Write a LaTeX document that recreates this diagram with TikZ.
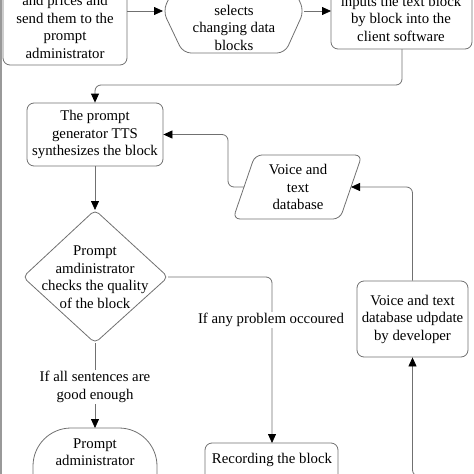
\documentclass[tikz,border=0pt]{standalone}
\usepackage{fontspec}
\setmainfont{Liberation Serif}
\usetikzlibrary{arrows.meta}
\definecolor{ln}{HTML}{707070}
\begin{document}
\begin{tikzpicture}[x=1pt,y=-1pt,
  shp/.style={draw=ln, line width=0.8pt, rounded corners=7pt},
  txt/.style={align=center, font=\fontsize{14.8}{17.5}\selectfont, inner sep=0pt},
  boxn/.style={shp, txt, rounded corners=7pt},
  conn/.style={draw=ln, line width=0.8pt, rounded corners=6pt, -{Triangle[length=9pt,width=8pt,color=black,fill=black]}},
  plain/.style={draw=ln, line width=0.8pt, rounded corners=6pt},
  lbl/.style={txt, fill=white, inner sep=1.5pt}]
\useasboundingbox (0,0) rectangle (474,474);
\clip (0,0) rectangle (474,474);
\fill[black!40] (0,0) rectangle (2,474);

% box 1 (cut at top)
\draw[shp] (3,-40) rectangle (127,65);
\node[txt] (t1) at (65,27) {and prices and\\send them to the\\prompt\\administrator};
\coordinate (b1e) at (127,11);

% hexagon
\draw[shp, rounded corners=8pt] (163,11) -- (183,53) -- (285,53) -- (304,11) -- (285,-31) -- (183,-31) -- cycle;
\node[txt] (t2) at (234,27.5) {selects\\changing data\\blocks};
\coordinate (hw) at (163,11);
\coordinate (he) at (304,11);

% box 3 (cut at top)
\draw[shp] (331,-40) rectangle (472,49);
\node[txt] (t3) at (401,18.5) {inputs the text block\\by block into the\\client software};
\coordinate (b3w) at (331,11);
\coordinate (b3s) at (402,49);

% box 4
\node[boxn, minimum width=136pt, minimum height=63pt] (b4) at (95,134.5) {The prompt\\generator TTS\\synthesizes the block};

% diamond
\draw[shp, rounded corners=5pt] (95,210) -- (168,277) -- (95,343) -- (23,277) -- cycle;
\node[txt] (t5) at (95,277) {Prompt\\amdinistrator\\checks the quality\\of the block};
\coordinate (dN) at (95,210);
\coordinate (dE) at (168,277);
\coordinate (dS) at (95,343);

% parallelogram
\draw[shp] (255,155) -- (362,155) -- (340,219) -- (233,219) -- cycle;
\node[txt] (t6) at (298,187) {Voice and\\text\\database};
\coordinate (pE) at (351,187);
\coordinate (pW) at (244,187);

% voice update box
\node[boxn, minimum width=111pt, minimum height=76pt] (vb) at (412.5,319) {Voice and text\\database udpdate\\by developer};

% terminal (cut at bottom)
\draw[shp, rounded corners=38pt] (33,520) -- (33,428) -- (157,428) -- (157,520);
\node[txt] (t8) at (95,452) {Prompt\\administrator};
\coordinate (tN) at (95,428);

% recording box (cut at bottom)
\draw[shp] (205,443) rectangle (338,520);
\node[txt] (t9) at (272,460) {Recording the block};
\coordinate (rN) at (272,443);

% bottom incoming line
\coordinate (bin) at (490,476);

% connectors
\draw[conn] (b1e) -- (hw);
\draw[conn] (he) -- (b3w);
\draw[conn] (b3s) -- ++(0,36) -| (b4.north);
\draw[conn] (b4.south) -- (dN);
\draw[conn] (dE) -| (rN);
\draw[conn] (dS) -- (tN);
\draw[conn] (vb.north) |- (pE);
\draw[conn] (pW) -- (228,187) |- (b4.east);
\draw[conn] (bin) -| (vb.south);

% labels
\node[lbl] (l1) at (271,320) {If any problem occoured};
\node[lbl] (l2) at (95,387) {If all sentences are\\good enough};
\end{tikzpicture}
\end{document}
